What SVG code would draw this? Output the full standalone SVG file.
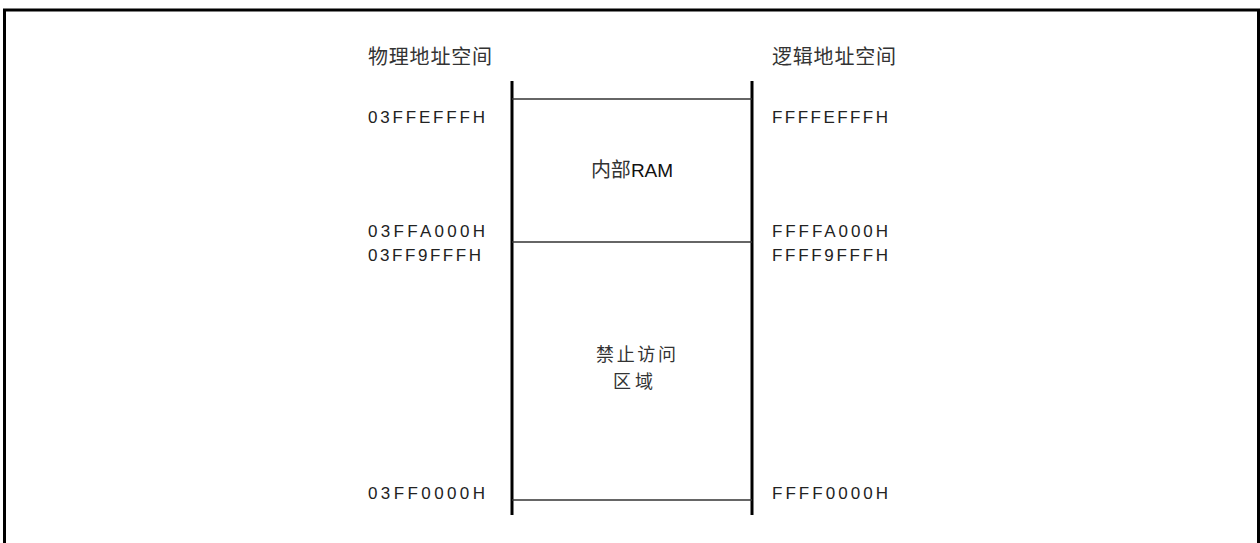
<svg xmlns="http://www.w3.org/2000/svg" width="1260" height="543" viewBox="0 0 1260 543">
<style>
.cjk{font-family:"Noto Sans CJK SC","Liberation Sans",sans-serif;font-size:20px;fill:#333}
.cjk2{font-family:"Noto Sans CJK SC","Liberation Sans",sans-serif;font-size:18px;fill:#333}
.hex{font-family:"Liberation Sans","Noto Sans",sans-serif;font-size:17px;fill:#222}
.lat{font-family:"Liberation Sans",sans-serif;font-size:19px;fill:#111}
.vl{stroke:#000;stroke-width:3;fill:none}
.hl{stroke:#333;stroke-width:1.5;fill:none}
</style>
<rect x="4.5" y="10" width="1254" height="560" fill="none" stroke="#000" stroke-width="3"/>
<g id="titles">
<text class="cjk" x="368" y="64" textLength="124" lengthAdjust="spacing">物理地址空间</text>
<text class="cjk" x="772" y="64" textLength="124" lengthAdjust="spacing">逻辑地址空间</text>
</g>
<g id="connectors">
<line class="vl" x1="512" y1="81" x2="512" y2="515"/>
<line class="vl" x1="752" y1="81" x2="752" y2="515"/>
<line class="hl" x1="512" y1="99" x2="752" y2="99"/>
<line class="hl" x1="512" y1="242" x2="752" y2="242"/>
<line class="hl" x1="512" y1="500" x2="752" y2="500"/>
</g>
<g id="internal-ram">
<text x="632" y="177" text-anchor="middle"><tspan class="cjk">内部</tspan><tspan class="lat">RAM</tspan></text>
</g>
<g id="prohibited">
<text class="cjk2" x="596" y="361" textLength="80" lengthAdjust="spacing">禁止访问</text>
<text class="cjk2" x="613" y="388" textLength="40" lengthAdjust="spacing">区域</text>
</g>
<g id="phys-labels">
<text class="hex" x="368" y="123" textLength="117" lengthAdjust="spacing">03FFEFFFH</text>
<text class="hex" x="368" y="237" textLength="117" lengthAdjust="spacing">03FFA000H</text>
<text class="hex" x="368" y="261" textLength="113" lengthAdjust="spacing">03FF9FFFH</text>
<text class="hex" x="368" y="499" textLength="117" lengthAdjust="spacing">03FF0000H</text>
</g>
<g id="logic-labels">
<text class="hex" x="772" y="123" textLength="116" lengthAdjust="spacing">FFFFEFFFH</text>
<text class="hex" x="772" y="237" textLength="116" lengthAdjust="spacing">FFFFA000H</text>
<text class="hex" x="772" y="261" textLength="116" lengthAdjust="spacing">FFFF9FFFH</text>
<text class="hex" x="772" y="499" textLength="116" lengthAdjust="spacing">FFFF0000H</text>
</g>
</svg>
